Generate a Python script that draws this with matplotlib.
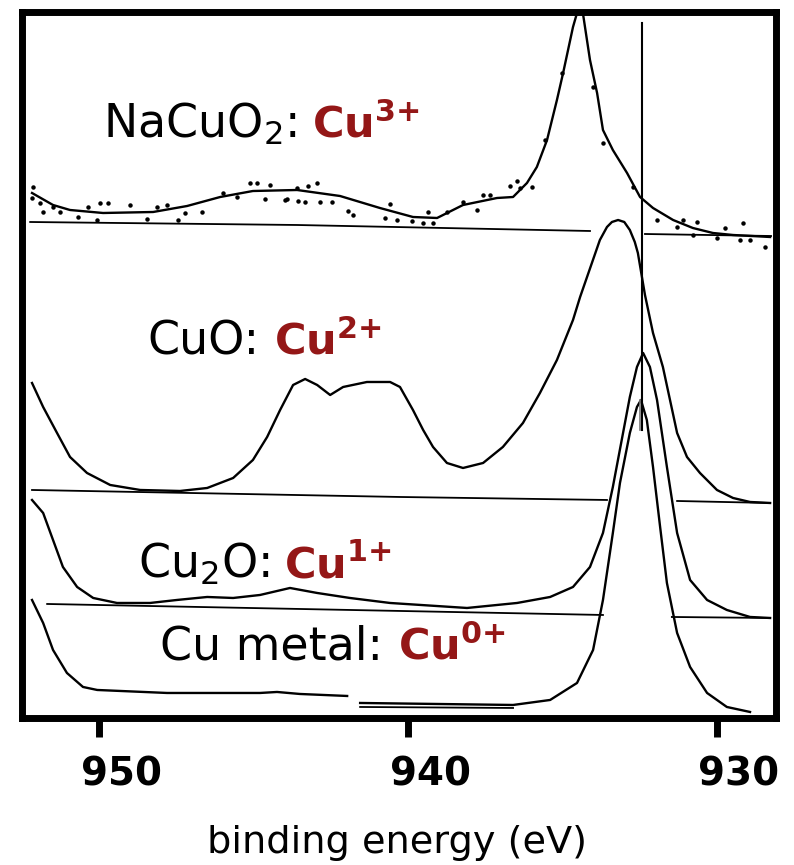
import matplotlib
matplotlib.use("Agg")
import matplotlib.pyplot as plt
from matplotlib.transforms import ScaledTranslation

plt.rcParams['font.family'] = ['DejaVu Sans']
plt.rcParams['mathtext.fontset'] = 'dejavusans'

RED = '#941717'

# Cu 2p3/2 spectra, binding energy (eV) vs intensity (arb. units)
naCuO2_E = [952.17, 951.49, 950.94, 949.87, 948.25, 947.15, 946.08, 945.02, 943.59,
            942.20, 940.91, 939.84, 939.06, 938.22, 937.12, 936.60, 936.15, 935.83,
            935.50, 935.18, 934.98, 934.66, 934.53, 934.43, 934.34, 934.11, 933.88,
            933.69, 933.37, 932.91, 932.49, 932.07, 931.42, 930.78, 930.13, 929.48, 928.28]
naCuO2_I = [522, 510, 505, 502, 503, 509, 518, 524, 525,
            519, 507, 498, 497, 510, 517, 518, 532, 548,
            575, 615, 642, 688, 702, 735, 702, 655, 622,
            585, 565, 542, 518, 507, 495, 487, 482, 480, 478]

# raw data points of the NaCuO2 scan
naCuO2_dots_E = [952.14, 952.17, 951.91, 951.81, 951.49, 951.26, 950.68, 950.36, 949.97, 949.71,
                 950.06, 949.00, 948.45, 948.12, 947.80, 947.44, 947.22, 946.67, 945.99, 945.53,
                 945.11, 944.89, 944.63, 944.47, 943.92, 943.59, 943.98, 943.56, 943.33, 943.24,
                 942.94, 942.85, 942.46, 941.94, 941.78, 940.58, 940.74, 940.36, 939.87, 939.51,
                 939.19, 939.35, 938.74, 938.22, 937.77, 937.57, 937.35, 936.70, 936.47, 936.38,
                 935.99, 935.57, 935.02, 934.01, 933.69, 932.72, 931.94, 931.29, 931.10, 930.65,
                 930.78, 930.00, 929.74, 929.16, 929.26, 928.93, 928.45]
naCuO2_dots_I = [528, 517, 512, 503, 508, 503, 498, 508, 512, 512,
                 495, 510, 496, 508, 510, 495, 502, 503, 522, 518,
                 532, 532, 516, 530, 516, 527, 515, 514, 513, 529,
                 532, 513, 513, 504, 500, 511, 497, 495, 494, 492,
                 492, 503, 503, 513, 505, 520, 520, 529, 534, 527,
                 528, 575, 642, 628, 572, 528, 495, 488, 495, 493,
                 480, 477, 487, 492, 475, 475, 468]

cuO_E = [952.17, 951.81, 951.36, 950.94, 950.39, 949.64, 948.67, 947.38, 946.50, 945.66,
         945.02, 944.56, 944.14, 943.72, 943.33, 942.94, 942.52, 942.10, 941.33, 940.58,
         940.26, 939.84, 939.51, 939.19, 938.74, 938.22, 937.57, 936.93, 936.28, 935.73,
         935.18, 934.66, 934.43, 933.79, 933.56, 933.40, 933.20, 933.00, 932.82, 932.66,
         932.56, 932.33, 932.07, 931.75, 931.52, 931.29, 930.97, 930.55, 930.00, 929.48,
         928.93, 928.28]
cuO_I = [332, 308, 282, 258, 242, 230, 225, 224, 227, 237,
         255, 278, 305, 330, 336, 330, 320, 328, 333, 333,
         328, 305, 285, 268, 252, 247, 252, 268, 292, 322,
         355, 395, 418, 475, 488, 493, 495, 493, 485, 473,
         462, 420, 382, 348, 315, 282, 258, 242, 225, 217,
         213, 212]

cu2O_E = [952.17, 951.81, 951.49, 951.17, 950.71, 950.19, 949.42, 948.35, 947.48, 946.50,
          945.66, 944.79, 943.82, 942.94, 941.88, 940.58, 938.09, 936.47, 935.40, 934.66,
          934.11, 933.69, 933.37, 933.04, 932.82, 932.59, 932.39, 932.17, 931.94, 931.62,
          931.29, 930.87, 930.32, 929.68, 928.93, 928.28]
cu2O_I = [215, 202, 175, 148, 128, 117, 112, 112, 115, 118,
          117, 120, 127, 122, 117, 112, 107, 112, 118, 128,
          148, 182, 228, 282, 318, 348, 362, 348, 315, 248,
          182, 135, 115, 105, 98, 97]

cu_left_E = [952.17, 951.81, 951.49, 951.04, 950.52, 950.06, 947.80, 944.79, 944.24, 943.50, 941.97]
cu_left_I = [115, 92, 65, 42, 28, 25, 22, 22, 23, 21, 19]
cu_right_E = [941.55, 936.60, 935.40, 934.53, 934.01, 933.69, 933.37, 933.14, 932.82, 932.59,
              932.46, 932.27, 932.07, 931.84, 931.62, 931.29, 930.87, 930.32, 929.68, 928.93]
cu_right_I = [12, 10, 15, 32, 65, 115, 182, 232, 282, 308,
              315, 295, 248, 188, 132, 82, 48, 22, 8, 3]

# background lines (two pieces each, broken at the main line)
bg_lines = [
    ([952.23, 943.59, 934.11], [493, 490, 484]),
    ([932.33, 928.25], [481, 479]),
    ([952.17, 940.26, 933.56], [225, 218, 215]),
    ([931.29, 928.28], [214, 212]),
    ([951.68, 933.69], [111, 100]),
    ([931.46, 928.28], [98, 97]),
    ([941.55, 936.60], [8, 7]),
]

ref_E = 932.43
ref_top, ref_bottom = 692, 285

labels = [
    (949.87, 577, 'NaCuO$_2$:', 'Cu$^{\\mathbf{3{+}}}$'),
    (948.45, 360, 'CuO:', 'Cu$^{\\mathbf{2{+}}}$'),
    (948.74, 137, 'Cu$_2$O:', 'Cu$^{\\mathbf{1{+}}}$'),
    (948.03, 55, 'Cu metal:', 'Cu$^{\\mathbf{0{+}}}$'),
]

fig = plt.figure(figsize=(7.94, 8.65), dpi=100)
ax = fig.add_axes([0.0271, 0.1694, 0.9502, 0.8173])

lw = 1.7
kw = dict(color='black', lw=lw, solid_joinstyle='round')
ax.plot(naCuO2_E, naCuO2_I, **kw)
ax.plot(naCuO2_dots_E, naCuO2_dots_I, ls='none', marker='o', ms=2.2, color='black')
ax.plot(cuO_E, cuO_I, **kw)
ax.plot(cu2O_E, cu2O_I, **kw)
ax.plot(cu_left_E, cu_left_I, **kw)
ax.plot(cu_right_E, cu_right_I, **kw)
for xs, ys in bg_lines:
    ax.plot(xs, ys, color='black', lw=1.3)
ax.plot([ref_E, ref_E], [ref_top, ref_bottom], color='black', lw=1.5)
ax.plot([ref_E + 0.05, ref_E + 0.05], [ref_bottom, ref_bottom + 30], color='#777777', lw=1.2)

ax.set_xlim(952.51, 928.09)
ax.set_ylim(-3.5, 703.5)
ax.set_xticks([950, 940, 930])
ax.set_yticks([])
ax.tick_params(axis='x', length=14, width=5, pad=13, labelsize=28)
for s in ax.spines.values():
    s.set_linewidth(5)

for t in ax.get_xticklabels():
    t.set_fontweight('bold')
    t.set_transform(t.get_transform() + ScaledTranslation(0.22, 0, fig.dpi_scale_trans))

fig.text(0.5, 0.014, 'binding energy (eV)', ha='center', va='baseline', fontsize=27.5)

fig.canvas.draw()
renderer = fig.canvas.get_renderer()
for x, y, black, red in labels:
    t1 = ax.text(x, y, black, fontsize=33, color='black', va='baseline', ha='left')
    w = t1.get_window_extent(renderer).width / fig.dpi + 0.15
    ax.text(x, y, red, fontsize=31, color=RED, fontweight='bold', va='baseline', ha='left',
            transform=ax.transData + ScaledTranslation(w, 0, fig.dpi_scale_trans))

fig.savefig('out.png', dpi=100)
